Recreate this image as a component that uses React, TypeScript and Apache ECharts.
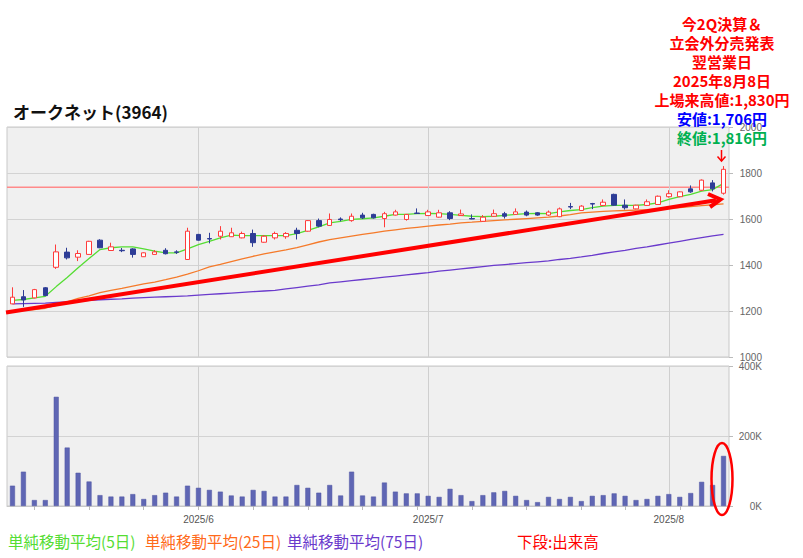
import React, { useEffect, useRef } from 'react';
import * as echarts from 'echarts';

const dates = [
  '2025/5/8', '2025/5/9', '2025/5/12', '2025/5/13', '2025/5/14', '2025/5/15', '2025/5/16', '2025/5/19', '2025/5/20', '2025/5/21',
  '2025/5/22', '2025/5/23', '2025/5/26', '2025/5/27', '2025/5/28', '2025/5/29', '2025/5/30', '2025/6/2', '2025/6/3', '2025/6/4',
  '2025/6/5', '2025/6/6', '2025/6/9', '2025/6/10', '2025/6/11', '2025/6/12', '2025/6/13', '2025/6/16', '2025/6/17', '2025/6/18',
  '2025/6/19', '2025/6/20', '2025/6/23', '2025/6/24', '2025/6/25', '2025/6/26', '2025/6/27', '2025/6/30', '2025/7/1', '2025/7/2',
  '2025/7/3', '2025/7/4', '2025/7/7', '2025/7/8', '2025/7/9', '2025/7/10', '2025/7/11', '2025/7/14', '2025/7/15', '2025/7/16',
  '2025/7/17', '2025/7/18', '2025/7/22', '2025/7/23', '2025/7/24', '2025/7/25', '2025/7/28', '2025/7/29', '2025/7/30', '2025/7/31',
  '2025/8/1', '2025/8/4', '2025/8/5', '2025/8/6', '2025/8/7', '2025/8/8',
];

const opens = [
  1231, 1262, 1257, 1301, 1390, 1456, 1434, 1446, 1508, 1463,
  1464, 1470, 1436, 1446, 1464, 1457, 1424, 1533, 1515, 1525,
  1523, 1518, 1537, 1499, 1518, 1523, 1551, 1547, 1593, 1572,
  1600, 1593, 1617, 1620, 1602, 1617, 1598, 1626, 1615, 1608,
  1627, 1615, 1602, 1590, 1612, 1623, 1620, 1630, 1627, 1617,
  1610, 1654, 1637, 1667, 1659, 1707, 1660, 1644, 1659, 1663,
  1697, 1697, 1731, 1725, 1757, 1712,
];
const closes = [
  1260, 1248, 1293, 1267, 1457, 1431, 1450, 1503, 1475, 1479,
  1462, 1446, 1453, 1457, 1449, 1455, 1547, 1508, 1513, 1547,
  1540, 1537, 1497, 1525, 1537, 1537, 1537, 1593, 1569, 1598,
  1597, 1612, 1605, 1605, 1623, 1631, 1620, 1624, 1631, 1627,
  1602, 1622, 1600, 1608, 1623, 1612, 1631, 1617, 1617, 1630,
  1644, 1652, 1656, 1665, 1673, 1660, 1649, 1660, 1675, 1699,
  1710, 1718, 1718, 1769, 1731, 1816,
];
const lows = [
  1230, 1218, 1255, 1265, 1383, 1424, 1417, 1445, 1473, 1462,
  1456, 1432, 1435, 1445, 1446, 1448, 1422, 1506, 1494, 1511,
  1522, 1516, 1479, 1497, 1511, 1514, 1511, 1545, 1564, 1570,
  1590, 1588, 1600, 1602, 1564, 1615, 1593, 1623, 1613, 1606,
  1595, 1613, 1599, 1588, 1610, 1602, 1618, 1612, 1614, 1613,
  1608, 1643, 1635, 1643, 1657, 1658, 1641, 1642, 1657, 1661,
  1693, 1695, 1714, 1723, 1720, 1706,
];
const highs = [
  1303, 1291, 1296, 1304, 1489, 1475, 1464, 1505, 1512, 1497,
  1474, 1473, 1455, 1465, 1473, 1464, 1562, 1535, 1540, 1569,
  1562, 1545, 1554, 1530, 1545, 1543, 1562, 1595, 1602, 1624,
  1607, 1624, 1627, 1623, 1631, 1640, 1622, 1646, 1640, 1640,
  1634, 1641, 1620, 1617, 1641, 1631, 1646, 1637, 1630, 1637,
  1650, 1670, 1660, 1670, 1685, 1710, 1685, 1662, 1685, 1702,
  1725, 1720, 1746, 1772, 1769, 1830,
];

const ma5 = [
  1246, 1250, 1257, 1264, 1306, 1346, 1388, 1428, 1467, 1475,
  1479, 1479, 1470, 1460, 1453, 1453, 1470, 1489, 1503, 1518,
  1530, 1528, 1528, 1528, 1528, 1528, 1536, 1551, 1566, 1583,
  1590, 1598, 1601, 1605, 1612, 1620, 1620, 1623, 1624, 1623,
  1620, 1616, 1612, 1610, 1612, 1616, 1620, 1623, 1624, 1623,
  1631, 1637, 1641, 1649, 1656, 1659, 1659, 1659, 1663, 1670,
  1685, 1697, 1707, 1721, 1728, 1755,
];
const ma25 = [
  1200, 1203, 1206, 1212, 1225, 1240, 1255, 1266, 1280, 1290,
  1298, 1308, 1318, 1326, 1336, 1347, 1360, 1375, 1392, 1403,
  1415, 1427, 1438, 1448, 1457, 1466, 1476, 1488, 1500, 1510,
  1518, 1526, 1533, 1540, 1547, 1553, 1559, 1564, 1569, 1574,
  1578, 1583, 1586, 1590, 1593, 1596, 1599, 1602, 1605, 1608,
  1613, 1619, 1627, 1630, 1633, 1635, 1637, 1639, 1641, 1644,
  1647, 1650, 1654, 1658, 1662, 1666,
];
const ma75 = [
  1231, 1232, 1233, 1234, 1237, 1240, 1243, 1246, 1249, 1251,
  1253, 1256, 1258, 1260, 1262, 1264, 1266, 1269, 1272, 1275,
  1278, 1281, 1284, 1287, 1290, 1296, 1302, 1308, 1314, 1322,
  1327, 1332, 1337, 1342, 1347, 1352, 1357, 1362, 1367, 1373,
  1378, 1383, 1388, 1393, 1398, 1402, 1406, 1410, 1414, 1418,
  1424, 1429, 1435, 1442, 1450, 1457, 1464, 1472, 1479, 1487,
  1495, 1503, 1511, 1519, 1527, 1533,
];

const volumes = [
  58000, 98000, 17000, 17000, 312000, 167000, 95000, 70000, 31000, 27000,
  27000, 34000, 20000, 31000, 38000, 27000, 58000, 52000, 46000, 41000,
  30000, 27000, 46000, 43000, 27000, 27000, 60000, 52000, 38000, 60000,
  30000, 98000, 30000, 27000, 67000, 41000, 36000, 36000, 29000, 26000,
  49000, 31000, 14000, 31000, 39000, 43000, 29000, 17000, 11000, 26000,
  20000, 26000, 14000, 29000, 31000, 36000, 29000, 17000, 20000, 29000,
  34000, 26000, 37000, 69000, 60000, 143000,
];

const monthStarts = ['2025/6/2', '2025/7/1', '2025/8/1'];
const weekStarts = [
  '2025/5/12', '2025/5/19', '2025/5/26', '2025/6/2', '2025/6/9', '2025/6/16', '2025/6/23',
  '2025/6/30', '2025/7/7', '2025/7/14', '2025/7/22', '2025/7/28', '2025/8/4',
];
const prevHighLine = 1740;

const titleText = 'オークネット(3964)';
const noteLines = [
  { text: '今2Q決算＆', color: '#ff0000' },
  { text: '立会外分売発表', color: '#ff0000' },
  { text: '翌営業日', color: '#ff0000' },
  { text: '2025年8月8日', color: '#ff0000' },
  { text: '上場来高値:1,830円', color: '#ff0000' },
  { text: '安値:1,706円', color: '#0000ff' },
  { text: '終値:1,816円', color: '#00b050' },
];
const legendItems = [
  { text: '単純移動平均(5日)', color: '#55dd33', x: 8 },
  { text: '単純移動平均(25日)', color: '#ff6a1a', x: 145 },
  { text: '単純移動平均(75日)', color: '#6a3acc', x: 287 },
  { text: '下段:出来高', color: '#ff0000', x: 517 },
];

const CJK = '"Noto Sans CJK JP", "Noto Sans", sans-serif';
const PINK = '#ff8a8a';

export default function App() {
  const ref = useRef<HTMLDivElement>(null);

  useEffect(() => {
    const chart = echarts.init(ref.current as HTMLDivElement, null, { renderer: 'svg' });
    const candleData = dates.map((_, i) => [opens[i], closes[i], lows[i], highs[i]]);
    const monthLines = monthStarts.map((d) => ({ xAxis: d }));
    const gridLineStyle = { color: '#cfcfcf', width: 1, type: 'solid' as const };

    const graphics: any[] = [
      {
        type: 'text',
        left: 13,
        top: 103,
        style: { text: titleText, font: `bold 17px ${CJK}`, fill: '#111' },
      },
      ...noteLines.map((l, k) => ({
        type: 'text',
        x: 722,
        y: 23 + 19 * k,
        z: 100,
        style: {
          text: l.text,
          font: `bold 15px ${CJK}`,
          fill: l.color,
          textAlign: 'center',
          textVerticalAlign: 'middle',
        },
      })),
      ...legendItems.map((l) => ({
        type: 'text',
        x: l.x,
        y: 541,
        style: {
          text: l.text,
          font: `15.5px ${CJK}`,
          fill: l.color,
          textAlign: 'left',
          textVerticalAlign: 'middle',
        },
      })),
      // trend arrow
      {
        type: 'line',
        z: 50,
        shape: { x1: 6, y1: 312.5, x2: 716, y2: 200.3 },
        style: { stroke: '#ff0000', lineWidth: 4, lineCap: 'butt' },
      },
      {
        type: 'polyline',
        z: 50,
        shape: { points: [[708, 194], [720.5, 199.5], [710, 207]] },
        style: { stroke: '#ff0000', lineWidth: 4, fill: 'none', lineJoin: 'miter' },
      },
      // small down arrow above last candle
      {
        type: 'line',
        z: 50,
        shape: { x1: 721.5, y1: 150, x2: 721.5, y2: 161 },
        style: { stroke: '#ff0000', lineWidth: 1.5 },
      },
      {
        type: 'polyline',
        z: 50,
        shape: { points: [[717.5, 156.5], [721.5, 161], [725.5, 156.5]] },
        style: { stroke: '#ff0000', lineWidth: 1.5, fill: 'none' },
      },
      // ellipse around last volume bar
      {
        type: 'ellipse',
        z: 50,
        shape: { cx: 722, cy: 479, rx: 10.5, ry: 36 },
        style: { stroke: '#ff0000', lineWidth: 2.5, fill: 'none' },
      },
    ];

    const option: any = {
      animation: false,
      backgroundColor: '#ffffff',
      graphic: graphics,
      grid: [
        { left: 7, right: 74, top: 127, height: 230, show: true, backgroundColor: '#f0f0f0', borderColor: '#c8c8c8', borderWidth: 1 },
        { left: 7, right: 74, top: 366, height: 140, show: true, backgroundColor: '#f0f0f0', borderColor: '#c8c8c8', borderWidth: 1 },
      ],
      xAxis: [
        {
          type: 'category',
          gridIndex: 0,
          data: dates,
          boundaryGap: true,
          axisLine: { show: false },
          axisTick: { show: false },
          axisLabel: { show: false },
          splitLine: { show: false },
        },
        {
          type: 'category',
          gridIndex: 1,
          data: dates,
          boundaryGap: true,
          axisLine: { show: true, lineStyle: { color: '#c8c8c8' } },
          axisTick: {
            show: true,
            alignWithLabel: true,
            length: 4,
            interval: (_i: number, v: string) => weekStarts.includes(v),
            lineStyle: { color: '#bbbbbb' },
          },
          axisLabel: {
            interval: (_i: number, v: string) => monthStarts.includes(v),
            formatter: (v: string) => v.split('/').slice(0, 2).join('/'),
            color: '#555',
            fontSize: 10,
            margin: 8,
            fontFamily: 'Liberation Sans, sans-serif',
          },
          splitLine: { show: false },
        },
      ],
      yAxis: [
        {
          type: 'value',
          gridIndex: 0,
          position: 'right',
          min: 1000,
          max: 2000,
          interval: 200,
          axisLine: { show: false },
          axisTick: { show: true, length: 4, lineStyle: { color: '#bbbbbb' } },
          axisLabel: {
            align: 'right',
            margin: 33,
            color: '#666',
            fontSize: 10,
            fontFamily: 'Liberation Sans, sans-serif',
            showMinLabel: true,
            showMaxLabel: true,
            formatter: (v: number) => String(v),
          },
          splitLine: { show: true, lineStyle: { color: '#d3d3d3' } },
        },
        {
          type: 'value',
          gridIndex: 1,
          position: 'right',
          min: 0,
          max: 400000,
          interval: 200000,
          axisLine: { show: false },
          axisTick: { show: true, length: 4, lineStyle: { color: '#bbbbbb' } },
          axisLabel: {
            align: 'right',
            margin: 33,
            color: '#666',
            fontSize: 10,
            fontFamily: 'Liberation Sans, sans-serif',
            formatter: (v: number) => `${v / 1000}K`,
          },
          splitLine: { show: true, lineStyle: { color: '#d3d3d3' } },
        },
      ],
      series: [
        {
          name: 'MA75',
          type: 'line',
          xAxisIndex: 0,
          yAxisIndex: 0,
          data: ma75,
          showSymbol: false,
          symbol: 'none',
          z: 2,
          lineStyle: { color: '#6a3acc', width: 1.3 },
          markLine: {
            silent: true,
            z: 1,
            symbol: ['none', 'none'],
            label: { show: false },
            lineStyle: gridLineStyle,
            data: monthLines,
          },
        },
        {
          name: 'MA25',
          type: 'line',
          xAxisIndex: 0,
          yAxisIndex: 0,
          data: ma25,
          showSymbol: false,
          symbol: 'none',
          z: 2,
          lineStyle: { color: '#f57a2a', width: 1.3 },
        },
        {
          name: 'MA5',
          type: 'line',
          xAxisIndex: 0,
          yAxisIndex: 0,
          data: ma5,
          showSymbol: false,
          symbol: 'none',
          z: 2,
          lineStyle: { color: '#55dd33', width: 1.3 },
        },
        {
          name: '株価',
          type: 'candlestick',
          xAxisIndex: 0,
          yAxisIndex: 0,
          data: candleData,
          barWidth: 5,
          z: 3,
          itemStyle: {
            color: '#ffffff',
            color0: '#2d3c96',
            borderColor: '#ff3b3b',
            borderColor0: '#2d3c96',
            borderWidth: 1,
          },
        },
        {
          name: '出来高',
          type: 'bar',
          xAxisIndex: 1,
          yAxisIndex: 1,
          data: volumes,
          barWidth: 5,
          z: 3,
          itemStyle: { color: '#5f66b4', borderColor: '#4e55a3', borderWidth: 0.5 },
          markLine: {
            silent: true,
            z: 1,
            symbol: ['none', 'none'],
            label: { show: false },
            lineStyle: gridLineStyle,
            data: monthLines,
          },
        },
      ],
    };

    chart.setOption(option);

    // previous-high reference line, placed through the price axis scale
    const yPix = chart.convertToPixel({ yAxisIndex: 0 }, prevHighLine) as number;
    const xLeft = chart.convertToPixel({ xAxisIndex: 0 }, dates[0]) as number;
    const xRight = chart.convertToPixel({ xAxisIndex: 0 }, dates[dates.length - 1]) as number;
    const half = (xRight - xLeft) / (dates.length - 1) / 2;
    chart.setOption({
      graphic: [
        ...graphics,
        {
          type: 'rect',
          z: 1,
          silent: true,
          shape: { x: xLeft - half, y: Math.round(yPix) - 0.5, width: xRight - xLeft + 2 * half, height: 1.5 },
          style: { fill: PINK, stroke: 'none' },
        },
      ],
    });

    return () => chart.dispose();
  }, []);

  return (
    <div
      ref={ref}
      style={{ position: 'fixed', left: 0, top: 0, width: 803, height: 558, background: '#fff' }}
    />
  );
}
